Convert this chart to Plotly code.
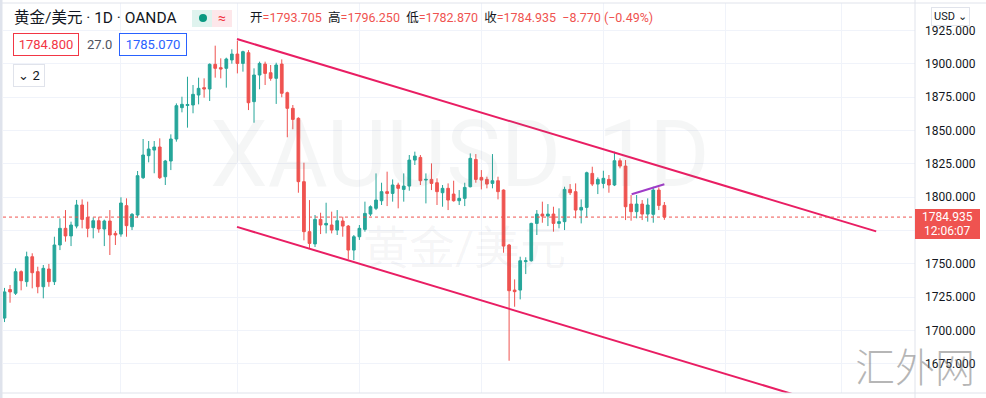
import pandas as pd
import plotly.graph_objects as go

# ---------------- data (XAUUSD daily, OANDA) ----------------
open_ = [1709.2, 1730.6, 1727.8, 1744.0, 1736.5, 1755.2, 1744.0, 1732.7, 1746.0, 1736.5,
         1764.0, 1776.5, 1770.8, 1778.2, 1794.0, 1784.7, 1777.0, 1782.2, 1776.0, 1782.0,
         1772.7, 1772.2, 1793.5, 1777.7, 1786.5, 1814.5, 1831.0, 1835.2, 1837.5, 1815.2,
         1827.0, 1843.5, 1867.0, 1868.6, 1869.0, 1876.5, 1882.0, 1881.0, 1899.5, 1897.0,
         1896.5, 1902.8, 1907.2, 1900.2, 1908.2, 1871.5, 1891.5, 1899.7, 1893.2, 1889.0,
         1899.7, 1878.2, 1866.5, 1859.0, 1811.5, 1774.0, 1764.8, 1783.2, 1779.0, 1779.0,
         1775.2, 1782.0, 1778.2, 1760.2, 1770.2, 1775.7, 1787.2, 1791.5, 1797.2, 1804.0,
         1802.7, 1809.0, 1805.7, 1808.2, 1827.7, 1829.7, 1812.7, 1813.2, 1810.7, 1803.2,
         1806.5, 1802.2, 1797.2, 1799.0, 1807.7, 1828.2, 1814.7, 1813.2, 1810.2, 1812.2,
         1805.2, 1764.0, 1730.2, 1730.2, 1751.5, 1752.2, 1780.2, 1787.2, 1785.7, 1787.2,
         1780.2, 1781.5, 1805.7, 1804.0, 1790.2, 1792.2, 1817.7, 1809.7, 1810.2, 1813.2,
         1809.0, 1827.2, 1823.2, 1794.7, 1789.0, 1794.7, 1787.2, 1787.0, 1805.2, 1793.705]
high = [1731.8, 1734.0, 1746.5, 1745.0, 1759.0, 1757.8, 1747.7, 1749.0, 1749.8, 1770.2,
        1784.0, 1790.2, 1781.5, 1797.8, 1798.2, 1796.5, 1784.7, 1785.2, 1783.0, 1790.2,
        1774.5, 1799.8, 1799.0, 1788.0, 1819.5, 1843.5, 1842.0, 1842.0, 1844.0, 1827.8,
        1847.0, 1870.2, 1875.2, 1890.2, 1884.0, 1889.5, 1889.0, 1900.2, 1913.5, 1904.0,
        1904.5, 1910.8, 1917.2, 1909.7, 1910.2, 1896.5, 1901.5, 1901.5, 1899.0, 1900.7,
        1903.2, 1879.0, 1869.0, 1859.8, 1825.7, 1797.7, 1786.5, 1788.2, 1795.7, 1789.0,
        1790.2, 1785.2, 1779.0, 1771.5, 1779.0, 1796.5, 1793.7, 1817.7, 1810.7, 1819.0,
        1813.2, 1810.7, 1817.7, 1831.5, 1834.0, 1831.5, 1817.7, 1825.2, 1814.0, 1809.0,
        1810.2, 1812.2, 1805.2, 1810.7, 1832.7, 1832.2, 1820.2, 1815.2, 1832.2, 1815.2,
        1805.7, 1764.8, 1738.2, 1755.2, 1754.8, 1780.7, 1790.2, 1796.5, 1794.7, 1792.7,
        1791.5, 1807.7, 1809.7, 1810.2, 1798.2, 1819.0, 1822.7, 1814.7, 1819.7, 1816.5,
        1834.0, 1829.0, 1827.7, 1801.5, 1801.5, 1797.7, 1799.0, 1807.7, 1807.2, 1796.25]
low = [1706.2, 1720.7, 1726.5, 1730.0, 1732.7, 1731.5, 1727.8, 1724.0, 1732.7, 1734.0,
       1760.2, 1766.5, 1763.2, 1776.5, 1776.5, 1769.8, 1769.0, 1773.2, 1763.2, 1756.5,
       1764.0, 1770.2, 1770.2, 1775.2, 1784.5, 1813.5, 1826.0, 1817.8, 1813.5, 1809.0,
       1820.2, 1841.5, 1863.5, 1852.0, 1862.8, 1869.5, 1874.5, 1872.0, 1889.5, 1889.0,
       1882.0, 1900.0, 1892.7, 1894.0, 1865.2, 1855.7, 1880.8, 1884.0, 1887.2, 1869.8,
       1874.8, 1844.8, 1850.8, 1803.2, 1767.5, 1761.5, 1762.5, 1772.2, 1772.7, 1772.7,
       1771.5, 1770.2, 1753.2, 1752.7, 1767.8, 1774.0, 1785.7, 1790.2, 1794.0, 1793.2,
       1796.5, 1791.5, 1796.5, 1804.7, 1824.0, 1809.0, 1795.2, 1805.2, 1794.0, 1792.7,
       1790.2, 1796.5, 1794.0, 1793.2, 1807.2, 1810.7, 1805.7, 1806.5, 1806.5, 1798.2,
       1758.2, 1677.2, 1717.7, 1723.2, 1742.2, 1751.5, 1771.5, 1780.7, 1778.2, 1774.0,
       1776.5, 1775.2, 1801.5, 1784.0, 1780.2, 1784.7, 1808.2, 1802.2, 1806.5, 1803.2,
       1808.2, 1821.5, 1782.7, 1782.2, 1784.0, 1782.7, 1781.5, 1780.7, 1790.2, 1782.87]
close = [1728.8, 1728.8, 1744.0, 1737.2, 1755.2, 1743.2, 1732.7, 1746.5, 1736.5, 1764.0,
         1776.5, 1770.8, 1779.0, 1794.0, 1783.2, 1776.5, 1782.2, 1776.0, 1782.0, 1771.5,
         1771.5, 1795.5, 1778.5, 1787.0, 1816.0, 1831.5, 1836.0, 1837.5, 1814.5, 1827.0,
         1843.5, 1868.5, 1869.5, 1869.4, 1877.0, 1881.5, 1881.0, 1899.5, 1896.5, 1896.0,
         1903.5, 1907.2, 1900.2, 1909.0, 1870.7, 1891.5, 1900.2, 1892.7, 1889.0, 1899.0,
         1877.8, 1866.5, 1858.2, 1811.5, 1774.0, 1765.2, 1783.2, 1779.0, 1780.2, 1775.2,
         1782.2, 1778.2, 1760.2, 1770.2, 1776.5, 1787.7, 1792.7, 1797.7, 1804.0, 1802.7,
         1809.0, 1806.5, 1808.2, 1827.7, 1830.7, 1812.2, 1813.2, 1810.2, 1804.0, 1806.5,
         1797.7, 1797.2, 1799.0, 1807.2, 1829.0, 1813.2, 1812.7, 1809.7, 1812.2, 1804.0,
         1763.2, 1729.7, 1729.0, 1752.2, 1752.2, 1780.2, 1787.2, 1785.7, 1787.2, 1780.2,
         1781.5, 1805.7, 1803.2, 1790.2, 1792.2, 1818.2, 1809.7, 1813.2, 1814.0, 1809.0,
         1827.2, 1823.2, 1792.7, 1789.0, 1794.7, 1787.2, 1794.0, 1805.2, 1793.705, 1784.935]

# trading days (no OANDA bar on Good Friday 2021-04-02); extended into the future area
days = pd.bdate_range("2021-04-01", "2021-11-30").drop(pd.Timestamp("2021-04-02"))
dates = [d.strftime("%Y-%m-%d") for d in days[:len(close)]]
bar = list(range(len(close)))
month_starts = [i for i in range(1, len(days)) if days[i].month != days[i - 1].month]

price_ticks = [1675, 1700, 1725, 1750, 1775, 1800, 1825, 1850, 1875, 1900, 1925]
# the 1775 label sits under the live-price tag, so it is not shown
price_tick_labels = ["1675.000", "1700.000", "1725.000", "1750.000", "",
                     "1800.000", "1825.000", "1850.000", "1875.000", "1900.000", "1925.000"]

# drawings (bar index, price)
upper_channel_x = [41.93, 157.2]
upper_channel_y = [1918.5, 1774.2]
lower_channel_x = [41.93, 157.2]
lower_channel_y = [1777.6, 1633.3]
purple_line_x = [113.1, 119.0]
purple_line_y = [1802.0, 1809.5]

header_values = [("开", "1793.705"), ("高", "1796.250"), ("低", "1782.870"), ("收", "1784.935")]
change_text = "−8.770 (−0.49%)"
bid, spread, ask = "1784.800", "27.0", "1785.070"
countdown = "12:06:07"

# ---------------- figure ----------------
W, H = 986, 398
PL, PT, PW, PH = 3, 3, 912, 390
def px(x):
    return (x - PL) / PW
def py(y):
    return (PT + PH - y) / PH

UP, DOWN = "#26a69a", "#ef5350"
FONT = "Roboto, 'Noto Sans CJK SC', sans-serif"
TXT = "#131722"

fig = go.Figure()
fig.add_trace(go.Candlestick(
    x=bar, open=open_, high=high, low=low, close=close, text=dates,
    increasing=dict(line=dict(color=UP, width=1), fillcolor=UP),
    decreasing=dict(line=dict(color=DOWN, width=1), fillcolor=DOWN),
    hoverinfo="skip", showlegend=False,
))
for xs, ys, col in [(upper_channel_x, upper_channel_y, "#e91e63"),
                    (lower_channel_x, lower_channel_y, "#e91e63"),
                    (purple_line_x, purple_line_y, "#a03cc8")]:
    fig.add_trace(go.Scatter(x=xs, y=ys, mode="lines", line=dict(color=col, width=2),
                             hoverinfo="skip", showlegend=False))

shapes = [
    # current price dotted line
    dict(type="line", xref="paper", yref="y", x0=0, x1=1, y0=close[-1], y1=close[-1],
         line=dict(color=DOWN, width=1, dash="dot")),
    # pane borders
    dict(type="line", xref="paper", yref="paper", x0=1, x1=1, y0=py(H), y1=py(0),
         line=dict(color="#e0e3eb", width=1)),
    dict(type="line", xref="paper", yref="paper", x0=px(0), x1=px(W), y0=0, y1=0,
         line=dict(color="#e0e3eb", width=1)),
    dict(type="line", xref="paper", yref="paper", x0=px(0), x1=px(W), y0=1, y1=1,
         line=dict(color="#e0e3eb", width=1)),
    dict(type="rect", xref="paper", yref="paper", x0=px(0), x1=px(2.5), y0=py(H), y1=py(0),
         fillcolor="#dfe3ec", line=dict(width=0)),
    # price label on axis
    dict(type="rect", xref="paper", yref="paper", x0=1, x1=px(980), y0=py(239), y1=py(209),
         fillcolor=DOWN, line=dict(width=0)),
    # status pill
    dict(type="rect", xref="paper", yref="paper", x0=px(192), x1=px(212), y0=py(27), y1=py(10),
         fillcolor="#dff3ee", line=dict(width=0)),
    dict(type="rect", xref="paper", yref="paper", x0=px(212), x1=px(232), y0=py(27), y1=py(10),
         fillcolor="#fde7ea", line=dict(width=0)),
    dict(type="circle", xref="paper", yref="paper", x0=px(199), x1=px(207), y0=py(22), y1=py(14),
         fillcolor="#089981", line=dict(width=0)),
]

def ann(text, x, y, size=13, color=TXT, xanchor="left", **kw):
    d = dict(text=text, xref="paper", yref="paper", x=px(x), y=py(y), xanchor=xanchor,
             yanchor="middle", showarrow=False, font=dict(family=FONT, size=size, color=color))
    d.update(kw)
    return d

vals = "&nbsp; ".join(f"<span style='color:{TXT}'>{k}</span><span style='color:{DOWN}'>={v}</span>"
                      for k, v in header_values)
vals += f"&nbsp; <span style='color:{DOWN}'>{change_text}</span>"

annotations = [
    # watermarks
    ann("XAUUSD, 1D", 460, 155, size=92, color="rgba(120,123,134,0.07)", xanchor="center"),
    ann("黄金/美元", 465, 248, size=46, color="rgba(120,123,134,0.07)", xanchor="center"),
    # header
    ann("黄金/美元 · 1D · OANDA", 12, 18, size=15.5),
    ann("≈", 222, 18, size=14, color="#f23645", xanchor="center"),
    ann(vals, 248, 18, size=12.5),
    ann(bid, 46, 45, size=13, color="#f23645", xanchor="center", bordercolor="#f23645",
        borderwidth=1, borderpad=3, width=58, bgcolor="white"),
    ann(spread, 99, 45, size=13, color="#50535e", xanchor="center"),
    ann(ask, 153, 45, size=13, color="#2962ff", xanchor="center", bordercolor="#2962ff",
        borderwidth=1, borderpad=3, width=60, bgcolor="white"),
    ann("⌄ 2", 28.5, 75, size=13, xanchor="center", bordercolor="#e0e3eb",
        borderwidth=1, borderpad=3, width=24, bgcolor="white"),
    # axis widgets
    ann("USD ⌄", 950, 17, size=11, xanchor="center", bordercolor="#e0e3eb",
        borderwidth=1, borderpad=2, bgcolor="white"),
    ann(f"{close[-1]:.3f}", 948, 217, size=12, color="white", xanchor="center"),
    ann(countdown, 948, 231, size=12, color="white", xanchor="center"),
    # site watermark
    ann("汇外网", 915, 365, size=40, color="rgba(110,110,110,0.5)", xanchor="center",
        font=dict(family="'Noto Sans CJK SC'", size=40, color="rgba(110,110,110,0.5)", weight=300)),
]

fig.update_layout(
    width=W, height=H,
    margin=dict(l=PL, r=W - PL - PW, t=PT, b=H - PT - PH),
    paper_bgcolor="white", plot_bgcolor="white",
    shapes=shapes, annotations=annotations,
    xaxis=dict(range=[-0.27, 164.2], tickvals=month_starts, showticklabels=False,
               showgrid=True, gridcolor="#f0f3fa", gridwidth=1, zeroline=False,
               showline=False, ticks="", rangeslider=dict(visible=False)),
    yaxis=dict(side="right", range=[1653, 1945.5], tickvals=price_ticks,
               ticktext=price_tick_labels,
               showgrid=True, gridcolor="#f0f3fa", gridwidth=1, zeroline=False, showline=False,
               ticks="", ticklabelstandoff=9,
               tickfont=dict(family=FONT, size=12, color=TXT)),
    font=dict(family=FONT),
)

fig.write_html("out.html", config={"displayModeBar": False},
               post_script="document.body.style.margin='0';")
